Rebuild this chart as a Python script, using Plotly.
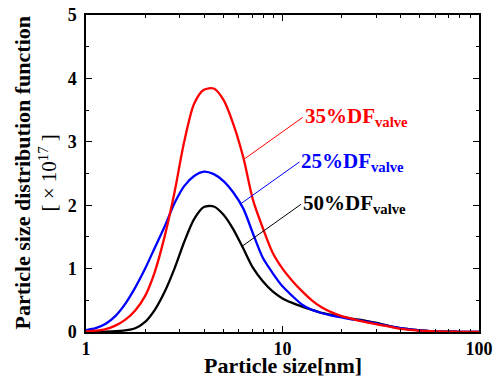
import math
import plotly.graph_objects as go

# Particle size [nm]
sizes = [1, 1.12, 1.26, 1.41, 1.58, 1.78, 2.0, 2.24, 2.51, 2.82, 3.16, 3.55, 3.98, 4.47,
         5.01, 5.62, 6.31, 7.08, 7.94, 8.91, 10, 11.2, 12.6, 14.1, 15.8, 17.8, 20, 22.4,
         25.1, 28.2, 31.6, 35.5, 39.8, 44.7, 50.1, 56.2, 63.1, 70.8, 79.4, 89.1, 100]

# Particle size distribution function [x10^17]
df35 = [0.01, 0.02, 0.045, 0.10, 0.19, 0.34, 0.57, 0.95, 1.50, 2.20, 3.00, 3.60, 3.82, 3.84,
        3.66, 3.28, 2.76, 2.08, 1.64, 1.25, 1.00, 0.81, 0.64, 0.50, 0.39, 0.31, 0.25, 0.21,
        0.17, 0.14, 0.11, 0.08, 0.05, 0.035, 0.022, 0.014, 0.009, 0.005, 0.003, 0.001, 0.0]
df25 = [0.03, 0.06, 0.13, 0.25, 0.44, 0.70, 1.00, 1.33, 1.66, 2.03, 2.30, 2.46, 2.53, 2.49,
        2.38, 2.20, 1.95, 1.55, 1.17, 0.93, 0.72, 0.57, 0.43, 0.35, 0.30, 0.26, 0.23, 0.20,
        0.18, 0.15, 0.12, 0.09, 0.06, 0.04, 0.025, 0.015, 0.009, 0.005, 0.003, 0.001, 0.0]
df50 = [0.0, 0.0, 0.005, 0.012, 0.025, 0.06, 0.16, 0.35, 0.63, 1.00, 1.42, 1.78, 1.97, 1.98,
        1.85, 1.62, 1.32, 1.01, 0.80, 0.64, 0.53, 0.46, 0.40, 0.35, 0.30, 0.27, 0.24, 0.21,
        0.19, 0.16, 0.13, 0.09, 0.06, 0.04, 0.025, 0.015, 0.009, 0.005, 0.003, 0.001, 0.0]

# label text, values, colour, particle size where the leader line touches the curve
series = [
    ("35%DF", df35, "#ff0000", 6.35),
    ("25%DF", df25, "#0000ff", 6.11),
    ("50%DF", df50, "#000000", 6.23),
]

font_family = "Liberation Serif"

fig = go.Figure()
for name, ys, color, _ in [series[2], series[1], series[0]]:
    fig.add_trace(go.Scatter(x=sizes, y=ys, mode="lines", name=name,
                             line=dict(color=color, width=2.3, shape="spline", smoothing=0.8),
                             showlegend=False))


def value_at(xs, ys, xp):
    lx = math.log10(xp)
    for i in range(len(xs) - 1):
        a, b = math.log10(xs[i]), math.log10(xs[i + 1])
        if a <= lx <= b:
            t = (lx - a) / (b - a)
            return ys[i] + t * (ys[i + 1] - ys[i])
    return ys[-1]


for name, ys, color, xp in series:
    fig.add_annotation(x=math.log10(xp), y=value_at(sizes, ys, xp), xref="x", yref="y",
                       text=f"<b>{name}<sub>valve</sub></b>",
                       showarrow=True, arrowhead=0, arrowwidth=1, arrowcolor=color,
                       ax=59, ay=-42, xanchor="left", yanchor="middle",
                       font=dict(family=font_family, size=21, color=color))

fig.update_layout(
    width=498, height=376,
    margin=dict(l=86, r=19, t=15, b=44),
    paper_bgcolor="white", plot_bgcolor="white",
    font=dict(family=font_family, size=18, color="black", weight="bold"),
    xaxis=dict(type="log", range=[0, 2], tickvals=[1, 10, 100], ticktext=["1", "10", "100"],
               ticks="inside", ticklen=6, tickwidth=1, tickcolor="black",
               showline=True, linecolor="black", linewidth=1.5, mirror="ticks",
               showgrid=False, zeroline=False, automargin=False,
               minor=dict(tickvals=[2, 3, 4, 5, 6, 7, 8, 9, 20, 30, 40, 50, 60, 70, 80, 90],
                          ticks="inside", ticklen=3, tickcolor="black", showgrid=False),
               tickfont=dict(size=18, family=font_family, weight="bold")),
    yaxis=dict(range=[0, 5], tickvals=[0, 1, 2, 3, 4, 5],
               ticks="inside", ticklen=6, tickwidth=1, tickcolor="black",
               showline=True, linecolor="black", linewidth=1.5, mirror="ticks",
               showgrid=False, zeroline=False, automargin=False,
               minor=dict(dtick=0.5, ticks="inside", ticklen=3, tickcolor="black", showgrid=False),
               tickfont=dict(size=18, family=font_family, weight="bold"),
               ticklabelstandoff=4),
)

fig.add_annotation(text="Particle size[nm]", xref="paper", yref="paper",
                   x=0.5, y=0, xanchor="center", yanchor="top", yshift=-19, showarrow=False,
                   font=dict(size=22, family=font_family, weight="bold"))
fig.add_annotation(text="Particle size distribution function", xref="paper", yref="paper",
                   x=0, y=0.5, xanchor="center", yanchor="middle", xshift=-64,
                   showarrow=False, textangle=-90,
                   font=dict(size=22, family=font_family, weight="bold"))
fig.add_annotation(text="[ × 10<sup>17</sup> ]", xref="paper", yref="paper",
                   x=0, y=0.5, xanchor="center", yanchor="middle", xshift=-38,
                   showarrow=False, textangle=-90,
                   font=dict(size=21, family=font_family, weight="normal"))

# remove the browser's default 8px page margin so the figure fills the window exactly
fig.write_html("out.html", config={"displayModeBar": False},
               post_script="document.body.style.margin='0';document.body.style.overflow='hidden';")
